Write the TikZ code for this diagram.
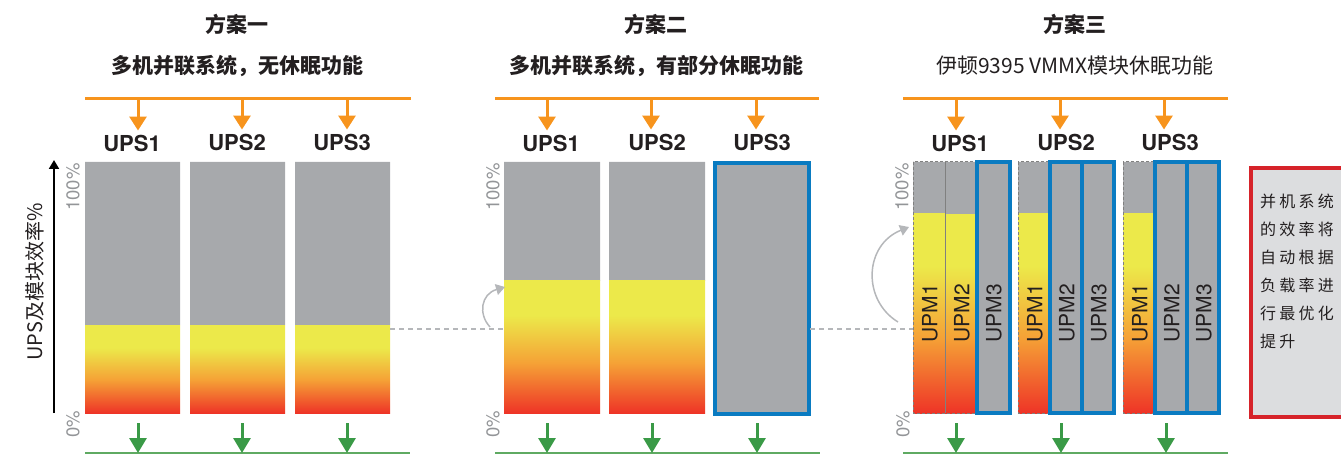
\documentclass[tikz,border=0pt]{standalone}
\usepackage{fontspec}
\setmainfont{TeX Gyre Heros}
\newfontfamily\cjk{Noto Sans CJK SC}
\newfontfamily\notecjk[LetterSpace=20]{Noto Sans CJK SC}
\usetikzlibrary{arrows.meta}

\definecolor{upsgray}{HTML}{A7A9AC}
\definecolor{loadyellow}{HTML}{ECE94A}
\definecolor{loadorange}{HTML}{F5A236}
\definecolor{loadred}{HTML}{EE3427}
\definecolor{busorange}{HTML}{F7941D}
\definecolor{outgreen}{HTML}{3A9A47}
\definecolor{lightgreen}{HTML}{5FAA62}
\definecolor{upmblue}{HTML}{0A7BC1}
\definecolor{notered}{HTML}{D6232A}
\definecolor{notegray}{HTML}{DCDDDF}
\definecolor{inkdark}{HTML}{231F20}
\definecolor{pctgray}{HTML}{939598}
\definecolor{guidegray}{HTML}{B5B7BA}

% shading is fitted to the middle 50bp
\pgfdeclareverticalshading{loadshade}{100bp}{color(0bp)=(loadred); color(25bp)=(loadred); color(44bp)=(loadorange); color(62bp)=(loadyellow); color(100bp)=(loadyellow)}

\begin{document}
\begin{tikzpicture}[x=1pt,y=-1pt,
	title/.style={font=\cjk\bfseries\fontsize{21}{25}\selectfont, text=inkdark},
	subtitle/.style={font=\cjk\fontsize{21}{25}\selectfont, text=inkdark},
	upslabel/.style={font=\bfseries\fontsize{22}{25}\selectfont, text=inkdark, inner sep=0pt},
	upm/.style={font=\fontsize{21}{25}\selectfont, text=inkdark, rotate=90},
	pct/.style={font=\fontsize{18.5}{20}\selectfont, text=pctgray, rotate=90},
	bus/.style={draw=busorange, line width=3pt},
	feed/.style={draw=busorange, line width=3pt, -{Triangle[width=17pt,length=14pt]}, shorten >=4pt},
	drain/.style={draw=outgreen, line width=3pt, -{Triangle[width=17pt,length=15pt]}},
	outline/.style={draw=lightgreen, line width=2pt},
	level/.style={draw=guidegray, line width=1.2pt, dash pattern=on 5pt off 4pt},
	lift/.style={draw=guidegray, line width=1.5pt, -{Triangle[width=11pt,length=9pt]}},
	sleeping/.style={draw=upmblue, line width=3.5pt, fill=upsgray},
	idle/.style={draw=gray, line width=1pt, dash pattern=on 3pt off 2pt}]
\useasboundingbox (0,0) rectangle (1341,454);

% axis
\coordinate (y0) at (54,413);
\coordinate (y1) at (54,160);
\draw[line width=2pt, -{Triangle[width=10pt,length=9pt]}] (y0) -- (y1);
\node[font=\cjk\fontsize{20}{22}\selectfont, text=inkdark, rotate=90] (ylab) at (35,282) {UPS及模块效率\%};

% scheme 1
\node[title] (t1) at (237,24) {方案一};
\node[subtitle, font=\cjk\bfseries\fontsize{21}{25}\selectfont] (s1) at (237,66) {多机并联系统，无休眠功能};
\draw[bus] (85,99) -- (411,99);
\coordinate (a11) at (138,99); \coordinate (a12) at (242,99); \coordinate (a13) at (347,99);
\node[upslabel] (u11) at (132,143) {UPS1};
\node[upslabel] (u12) at (237,142) {UPS2};
\node[upslabel] (u13) at (342,142) {UPS3};
\draw[feed] (a11) -- (a11 |- u11.north);
\draw[feed] (a12) -- (a12 |- u12.north);
\draw[feed] (a13) -- (a13 |- u13.north);
\fill[upsgray] (85,162) rectangle (180,325) (190,162) rectangle (285,325) (295,162) rectangle (390,325);
\shade[shading=loadshade] (85,325) rectangle (180,413);
\shade[shading=loadshade] (190,325) rectangle (285,413);
\shade[shading=loadshade] (295,325) rectangle (390,413);
\node[pct] (p1hi) at (73,187) {100\%};
\node[pct] (p1lo) at (73,424) {0\%};
\coordinate (o1) at (85,453); \coordinate (o1e) at (410,453);
\draw[outline] (o1) -- (o1e);
\coordinate (g11) at (138,423); \coordinate (g12) at (242,423); \coordinate (g13) at (347,423);
\draw[drain] (g11) -- (g11 |- o1);
\draw[drain] (g12) -- (g12 |- o1);
\draw[drain] (g13) -- (g13 |- o1);

% scheme 2
\node[title] (t2) at (656,24) {方案二};
\node[subtitle, font=\cjk\bfseries\fontsize{21}{25}\selectfont] (s2) at (656,66) {多机并联系统，有部分休眠功能};
\draw[bus] (495,99) -- (819,99);
\coordinate (a21) at (547,99); \coordinate (a22) at (651,99); \coordinate (a23) at (756,99);
\node[upslabel] (u21) at (551,143) {UPS1};
\node[upslabel] (u22) at (657,142) {UPS2};
\node[upslabel] (u23) at (762,142) {UPS3};
\draw[feed] (a21) -- (a21 |- u21.north);
\draw[feed] (a22) -- (a22 |- u22.north);
\draw[feed] (a23) -- (a23 |- u23.north);
\fill[upsgray] (504,162) rectangle (600,281) (609,162) rectangle (705,281);
\shade[shading=loadshade] (504,281) rectangle (600,413);
\shade[shading=loadshade] (609,281) rectangle (705,413);
\draw[sleeping] (715,163) rectangle (809,414);
\node[pct] (p2hi) at (493,187) {100\%};
\node[pct] (p2lo) at (493,424) {0\%};
\coordinate (o2) at (495,453); \coordinate (o2e) at (820,453);
\draw[outline] (o2) -- (o2e);
\coordinate (g21) at (547,423); \coordinate (g22) at (652,423); \coordinate (g23) at (757,423);
\draw[drain] (g21) -- (g21 |- o2);
\draw[drain] (g22) -- (g22 |- o2);
\draw[drain] (g23) -- (g23 |- o2);

% scheme 3
\node[title] (t3) at (1075,24) {方案三};
\node[subtitle] (s3) at (1075,66) {伊顿9395 VMMX模块休眠功能};
\draw[bus] (903,99) -- (1228,99);
\coordinate (a31) at (956,99); \coordinate (a32) at (1060,99); \coordinate (a33) at (1164,99);
\node[upslabel] (u31) at (960,143) {UPS1};
\node[upslabel] (u32) at (1066,142) {UPS2};
\node[upslabel] (u33) at (1170,142) {UPS3};
\draw[feed] (a31) -- (a31 |- u31.north);
\draw[feed] (a32) -- (a32 |- u32.north);
\draw[feed] (a33) -- (a33 |- u33.north);
\fill[upsgray] (913,162) rectangle (945,214) (945,162) rectangle (977,215) (1018,162) rectangle (1050,214) (1123,162) rectangle (1155,214);
\shade[shading=loadshade] (913,214) rectangle (945,413);
\shade[shading=loadshade] (945,215) rectangle (977,413);
\shade[shading=loadshade] (1018,214) rectangle (1050,413);
\shade[shading=loadshade] (1123,214) rectangle (1155,413);
\draw[idle] (913,162) rectangle (977,413) (1018,162) rectangle (1050,413) (1123,162) rectangle (1155,413);
\draw[gray, line width=1pt] (945,162) -- (945,413);
\draw[sleeping] (977,162) rectangle (1010,413);
\draw[sleeping] (1050,162) rectangle (1082,413);
\draw[sleeping] (1082,162) rectangle (1114,413);
\draw[sleeping] (1155,162) rectangle (1187,413);
\draw[sleeping] (1187,162) rectangle (1219,413);
\node[upm] (m11) at (930,313) {UPM1};
\node[upm] (m12) at (962,313) {UPM2};
\node[upm] (m13) at (994,313) {UPM3};
\node[upm] (m21) at (1035,313) {UPM1};
\node[upm] (m22) at (1067,313) {UPM2};
\node[upm] (m23) at (1099,313) {UPM3};
\node[upm] (m31) at (1140,313) {UPM1};
\node[upm] (m32) at (1172,313) {UPM2};
\node[upm] (m33) at (1204,313) {UPM3};
\node[pct] (p3hi) at (902,187) {100\%};
\node[pct] (p3lo) at (903,424) {0\%};
\coordinate (o3) at (903,453); \coordinate (o3e) at (1228,453);
\draw[outline] (o3) -- (o3e);
\coordinate (g31) at (956,423); \coordinate (g32) at (1061,423); \coordinate (g33) at (1166,423);
\draw[drain] (g31) -- (g31 |- o3);
\draw[drain] (g32) -- (g32 |- o3);
\draw[drain] (g33) -- (g33 |- o3);

% load level and lift
\coordinate (l1) at (390,329); \coordinate (l2) at (503,329);
\coordinate (l3) at (810,329); \coordinate (l4) at (913,329);
\draw[level] (l1) -- (l2) (l3) -- (l4);
\coordinate (c2s) at (490,327); \coordinate (c2e) at (505,287);
\draw[lift] (c2s) .. controls (478,314) and (481,294) .. (c2e);
\coordinate (c3s) at (898,322); \coordinate (c3e) at (909,227);
\draw[lift] (c3s) .. controls (862,300) and (864,245) .. (c3e);

% note
\draw[draw=notered, line width=4pt, fill=notegray] (1251,168) rectangle (1400,417);
\node[font=\notecjk\fontsize{16}{28}\selectfont, text=inkdark, anchor=base west, inner sep=0pt, text width=100pt, align=left] (note) at (1260,208) {并机系统\\的效率将\\自动根据\\负载率进\\行最优化\\提升};
\end{tikzpicture}
\end{document}
